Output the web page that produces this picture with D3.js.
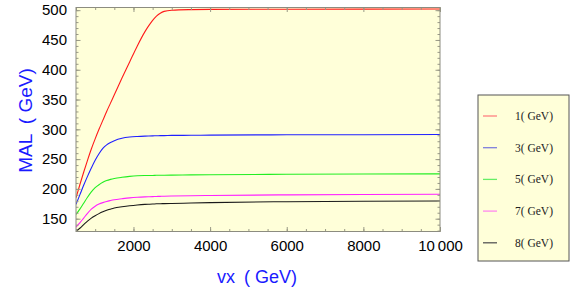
<!DOCTYPE html>
<html>
<head>
<meta charset="utf-8">
<script src="https://cdn.jsdelivr.net/npm/d3@7"></script>
<style>
  body { margin: 0; background: #fff; }
  svg { display: block; }
</style>
</head>
<body>
<div id="chart"></div>
<script>
// ---------------- data ----------------
const vx = [500, 600, 700, 800, 900, 1000, 1100, 1200, 1300, 1400, 1500, 1700, 1900, 2100, 2300, 2400, 2500, 2600, 2700, 2800, 3000, 3500, 4000, 6000, 8000, 10000];

const mal1 = [185, 207, 228, 248, 267, 284, 300, 315, 330, 344, 358, 386, 413, 440, 464, 474, 483, 490, 495, 498, 500, 501, 501.3, 501.6, 501.8, 502];
const mal3 = [174, 190, 206, 221, 235, 248, 259, 268, 274, 278, 281, 285, 287, 288, 288.6, 288.8, 289, 289.2, 289.4, 289.5, 289.8, 290, 290.3, 290.8, 291, 291.2];
const mal5 = [157, 166, 176, 186, 195, 202, 207, 211, 214, 216, 217.5, 219.5, 221, 222, 222.4, 222.5, 222.6, 222.8, 222.9, 223, 223.1, 223.5, 223.8, 224.5, 225, 225.3];
const mal7 = [136, 143, 151, 159, 166, 171, 174.5, 177, 179, 180.5, 181.8, 183.5, 185, 186, 186.6, 186.8, 187, 187.3, 187.5, 187.7, 188, 188.6, 189, 190, 190.6, 191];
const mal8 = [129, 134, 140, 146, 151, 155, 158.5, 161.5, 164, 166, 167.8, 170, 171.8, 173.1, 174, 174.3, 174.6, 175, 175.2, 175.3, 175.5, 176.3, 177, 178.5, 179.3, 179.8];

const seriesNames = ["1( GeV)", "3( GeV)", "5( GeV)", "7( GeV)", "8( GeV)"];
const seriesColors = ["#ff1a1a", "#2020ff", "#22ee22", "#ff22ff", "#1a1a1a"];
const legendColors = ["#ff8080", "#7f7fdd", "#66ee66", "#ff88ee", "#555555"];

const xTicks = [2000, 4000, 6000, 8000, 10000];
const xTickLabels = ["2000", "4000", "6000", "8000", "10\u2009000"];
const yTicks = [150, 200, 250, 300, 350, 400, 450, 500];

// ---------------- layout ----------------
const W = 581, H = 300;
const pLeft = 76, pRight = 440, pTop = 7.5, pBottom = 231.5;

const svg = d3.select("#chart").append("svg")
    .attr("width", W)
    .attr("height", H);

const xScale = d3.scaleLinear().domain([500, 10000]).range([pLeft, pRight]);
const yScale = d3.scaleLinear().domain([128.5, 504.5]).range([pBottom, pTop]);

// plot background
svg.append("rect")
    .attr("x", pLeft).attr("y", pTop)
    .attr("width", pRight - pLeft).attr("height", pBottom - pTop)
    .attr("fill", "#ffffd9");

// ---------------- lines ----------------
const allSeries = [mal1, mal3, mal5, mal7, mal8];
const line = d3.line()
    .x(function(d, i) { return xScale(vx[i]); })
    .y(function(d) { return yScale(d); })
    .curve(d3.curveMonotoneX);

svg.append("clipPath").attr("id", "clip")
    .append("rect")
    .attr("x", pLeft).attr("y", pTop - 1)
    .attr("width", pRight - pLeft).attr("height", pBottom - pTop + 1);

svg.append("g").attr("clip-path", "url(#clip)")
    .selectAll("path")
    .data(allSeries)
    .enter()
    .append("path")
    .attr("d", function(d) { return line(d); })
    .attr("fill", "none")
    .attr("stroke", function(d, i) { return seriesColors[i]; })
    .attr("stroke-width", 1.1);

// ---------------- frame + ticks ----------------
const tickColor = "#9a9a86";
const xMinor = d3.range(500, 10001, 500);
const yMinor = d3.range(130, 505, 10);

// bottom axis (ticks inward)
svg.append("g").attr("transform", "translate(0," + pBottom + ")")
    .call(d3.axisBottom(xScale).tickValues(xMinor).tickSize(-2.5).tickFormat(""));
svg.append("g").attr("transform", "translate(0," + pBottom + ")")
    .call(d3.axisBottom(xScale).tickValues(xTicks).tickSize(-4.5)
        .tickPadding(9)
        .tickFormat(function(d, i) { return xTickLabels[i]; }));

// top axis
svg.append("g").attr("transform", "translate(0," + pTop + ")")
    .call(d3.axisTop(xScale).tickValues(xMinor).tickSize(-2.5).tickFormat(""));
svg.append("g").attr("transform", "translate(0," + pTop + ")")
    .call(d3.axisTop(xScale).tickValues(xTicks).tickSize(-4.5).tickFormat(""));

// left axis
svg.append("g").attr("transform", "translate(" + pLeft + ",0)")
    .call(d3.axisLeft(yScale).tickValues(yMinor).tickSize(-2.5).tickFormat(""));
svg.append("g").attr("transform", "translate(" + pLeft + ",0)")
    .call(d3.axisLeft(yScale).tickValues(yTicks).tickSize(-4.5).tickPadding(9));

// right axis
svg.append("g").attr("transform", "translate(" + pRight + ",0)")
    .call(d3.axisRight(yScale).tickValues(yMinor).tickSize(-2.5).tickFormat(""));
svg.append("g").attr("transform", "translate(" + pRight + ",0)")
    .call(d3.axisRight(yScale).tickValues(yTicks).tickSize(-4.5).tickFormat(""));

svg.selectAll(".domain").remove();
svg.selectAll(".tick line").attr("stroke", tickColor);
svg.selectAll(".tick text")
    .attr("fill", "#000")
    .style("font-family", "'Liberation Sans', Arial, sans-serif")
    .style("font-size", "15px");

svg.append("rect")
    .attr("x", pLeft).attr("y", pTop)
    .attr("width", pRight - pLeft).attr("height", pBottom - pTop)
    .attr("fill", "none")
    .attr("stroke", "#8c8c80")
    .attr("stroke-width", 1);

// ---------------- axis titles ----------------
svg.append("text")
    .attr("x", 257).attr("y", 283)
    .attr("text-anchor", "middle")
    .attr("fill", "#1a1aff")
    .style("font-family", "'Liberation Sans', Arial, sans-serif")
    .style("font-size", "18px")
    .text("vx\u2002( GeV)");

svg.append("text")
    .attr("transform", "translate(32,120.5) rotate(-90)")
    .attr("text-anchor", "middle")
    .attr("fill", "#1a1aff")
    .style("font-family", "'Liberation Sans', Arial, sans-serif")
    .style("font-size", "19px")
    .text("MAL\u2002( GeV)");

// ---------------- legend ----------------
const legend = svg.append("g");
legend.append("rect")
    .attr("x", 478).attr("y", 95)
    .attr("width", 91).attr("height", 166)
    .attr("fill", "#ffffd9")
    .attr("stroke", "#555")
    .attr("stroke-width", 1);

const items = legend.selectAll("g.item")
    .data(seriesNames)
    .enter()
    .append("g")
    .attr("transform", function(d, i) { return "translate(0," + (116 + i * 31.7) + ")"; });

items.append("line")
    .attr("x1", 483).attr("x2", 497)
    .attr("stroke", function(d, i) { return legendColors[i]; })
    .attr("stroke-width", 1.3);

items.append("text")
    .attr("x", 515).attr("y", 4)
    .attr("fill", "#222")
    .style("font-family", "'Liberation Serif', 'Times New Roman', serif")
    .style("font-size", "11.5px")
    .text(function(d) { return d; });
</script>
</body>
</html>
